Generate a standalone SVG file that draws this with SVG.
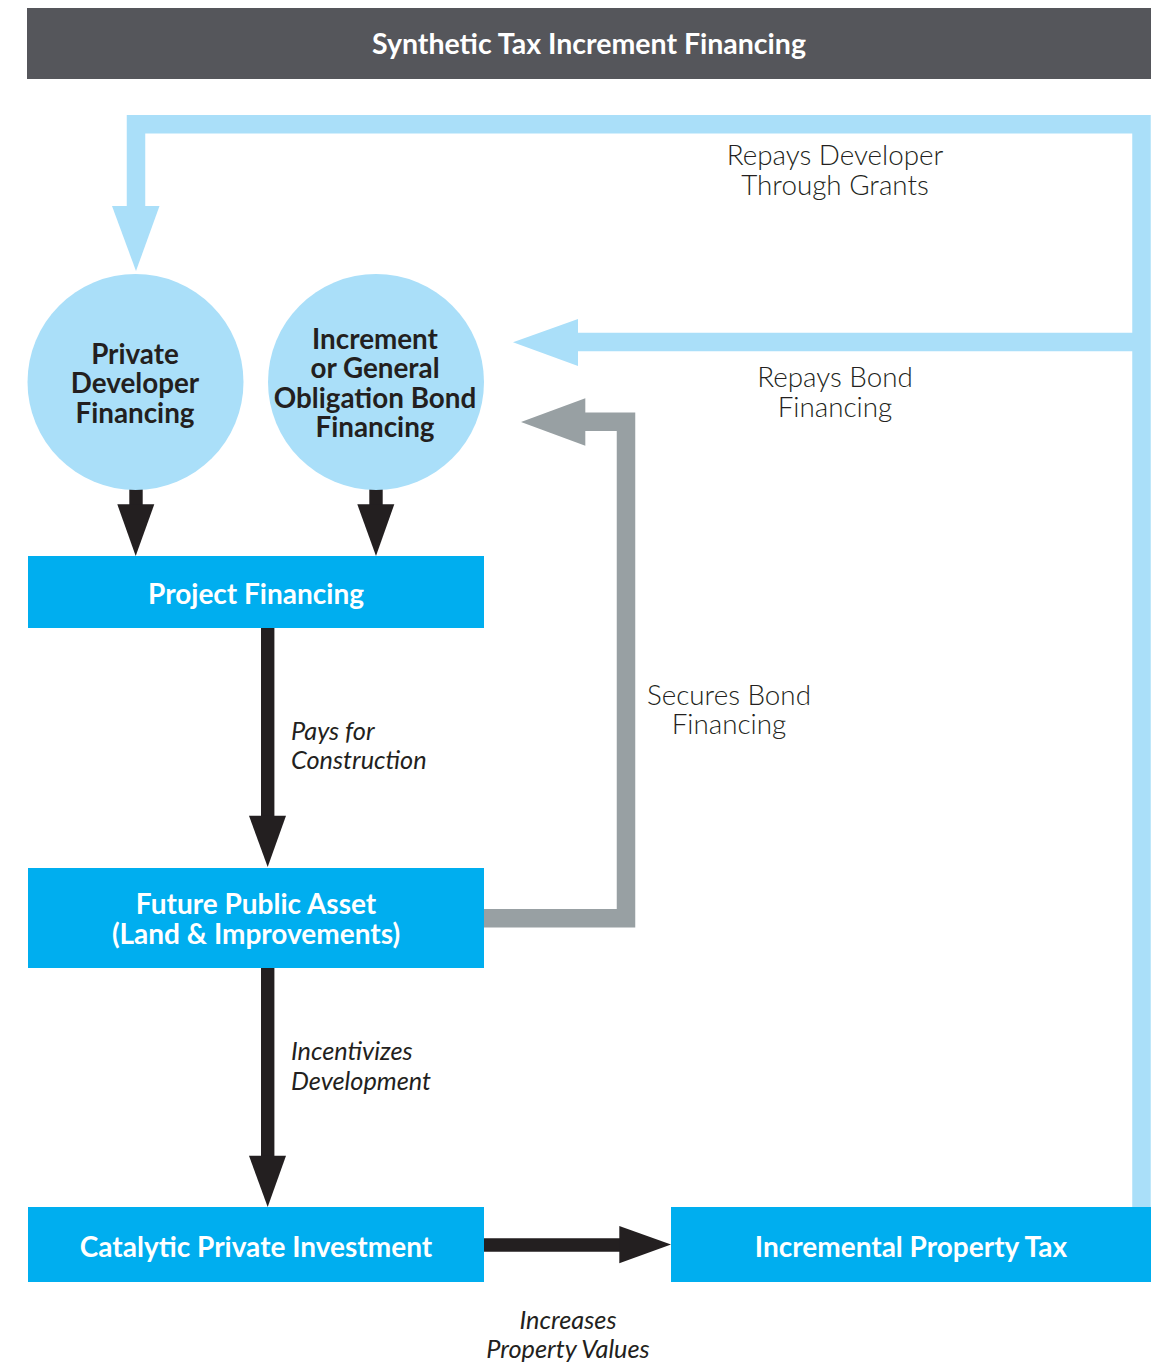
<svg xmlns="http://www.w3.org/2000/svg" width="1157" height="1363" viewBox="0 0 1157 1363">
<style>
.bg{fill:#ffffff}
.bar{fill:#55565b}
.title{font-family:Lato,"Liberation Sans",sans-serif;font-weight:bold;font-size:28.5px;fill:#ffffff;text-anchor:middle}
.circle{fill:#aadff9}
.ctext{font-family:Lato,"Liberation Sans",sans-serif;font-weight:bold;font-size:27.8px;fill:#231f20;text-anchor:middle}
.box{fill:#00aeef}
.btext{font-family:Lato,"Liberation Sans",sans-serif;font-weight:bold;font-size:28px;fill:#ffffff;text-anchor:middle}
.lab{font-family:Lato,"Liberation Sans",sans-serif;font-weight:300;font-size:27.8px;fill:#231f20;text-anchor:middle}
.ital{font-family:Lato,"Liberation Sans",sans-serif;font-style:italic;font-size:25.3px;fill:#231f20}
.lb{fill:none;stroke:#aadff9;stroke-width:18.5;stroke-linejoin:miter}
.lbh{fill:#aadff9}
.gr{fill:none;stroke:#98a0a3;stroke-width:18.5;stroke-linejoin:miter}
.grh{fill:#98a0a3}
.bk{fill:none;stroke:#231f20;stroke-width:13.4}
.bkh{fill:#231f20}
</style>
<rect class="bg" x="0" y="0" width="1157" height="1363"/>
<g id="title">
<rect class="bar" x="27" y="8" width="1124" height="71"/>
<text class="title" x="589" y="54">Synthetic Tax Increment Financing</text>
</g>
<g id="connectors">
<path class="lb" d="M1141.5 1208 V124.3 H136 V207"/>
<polygon class="lbh" points="112,206 159.5,206 136,271"/>
<path class="lb" d="M1133 342 H577"/>
<polygon class="lbh" points="578,319 578,366 513,342.3"/>
<path class="gr" d="M484 918.2 H626 V421.7 H584"/>
<polygon class="grh" points="585.3,398.3 585.3,445.7 521,422"/>
<path class="bk" d="M136 489 V506"/>
<polygon class="bkh" points="117.3,504.3 154.3,504.3 135.7,556"/>
<path class="bk" d="M376 489 V506"/>
<polygon class="bkh" points="357.3,504.3 394.3,504.3 376,556"/>
<path class="bk" d="M267.7 628 V817"/>
<polygon class="bkh" points="249,815.7 286,815.7 267.7,867"/>
<path class="bk" d="M267.7 968 V1157"/>
<polygon class="bkh" points="249,1155.7 286,1155.7 267.7,1207"/>
<path class="bk" d="M484 1245 H621"/>
<polygon class="bkh" points="619.3,1226 619.3,1263.3 671,1244.5"/>
</g>
<g id="labels">
<text class="lab" x="835" y="165">Repays Developer</text>
<text class="lab" x="835" y="195">Through Grants</text>
<text class="lab" x="835" y="387">Repays Bond</text>
<text class="lab" x="835" y="417">Financing</text>
<text class="lab" x="729" y="705">Secures Bond</text>
<text class="lab" x="729" y="734">Financing</text>
<text class="ital" x="291" y="740">Pays for</text>
<text class="ital" x="291" y="769">Construction</text>
<text class="ital" x="291" y="1060">Incentivizes</text>
<text class="ital" x="291" y="1090">Development</text>
<text class="ital" x="568" y="1329" text-anchor="middle">Increases</text>
<text class="ital" x="568" y="1358" text-anchor="middle">Property Values</text>
</g>
<g id="private-developer-financing">
<circle class="circle" cx="135.5" cy="382" r="108"/>
<text class="ctext" x="135" y="364">Private</text>
<text class="ctext" x="135" y="393">Developer</text>
<text class="ctext" x="135" y="423">Financing</text>
</g>
<g id="bond-financing">
<circle class="circle" cx="376" cy="382" r="108"/>
<text class="ctext" x="375" y="349">Increment</text>
<text class="ctext" x="375" y="378">or General</text>
<text class="ctext" x="375" y="408">Obligation Bond</text>
<text class="ctext" x="375" y="437">Financing</text>
</g>
<g id="project-financing">
<rect class="box" x="28" y="556" width="456" height="72"/>
<text class="btext" x="256" y="604">Project Financing</text>
</g>
<g id="future-public-asset">
<rect class="box" x="28" y="868" width="456" height="100"/>
<text class="btext" x="256" y="914">Future Public Asset</text>
<text class="btext" x="256" y="944">(Land &amp; Improvements)</text>
</g>
<g id="catalytic-private-investment">
<rect class="box" x="28" y="1207" width="456" height="75"/>
<text class="btext" x="256" y="1257">Catalytic Private Investment</text>
</g>
<g id="incremental-property-tax">
<rect class="box" x="671" y="1207" width="480" height="75"/>
<text class="btext" x="911" y="1257">Incremental Property Tax</text>
</g>
</svg>
